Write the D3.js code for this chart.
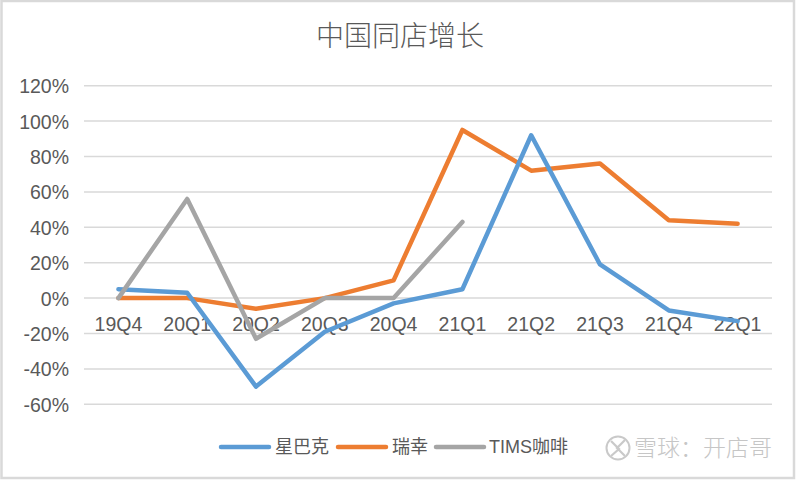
<!DOCTYPE html>
<html>
<head>
<meta charset="utf-8">
<script src="https://cdn.jsdelivr.net/npm/d3@7"></script>
<style>
  html, body { margin: 0; padding: 0; background: #fff; }
  svg { display: block; }
</style>
</head>
<body>
<svg id="chart" width="800" height="482"></svg>
<script>
const categories = ["19Q4", "20Q1", "20Q2", "20Q3", "20Q4", "21Q1", "21Q2", "21Q3", "21Q4", "22Q1"];
const starbucks = [5, 3, -50, -19, -3, 5, 92, 19, -7, -13];
const luckin = [0, 0, -6, 0, 10, 95, 72, 76, 44, 42];
const tims = [0, 56, -23, 0, 0, 43, null, null, null, null];
const yTicks = [-60, -40, -20, 0, 20, 40, 60, 80, 100, 120];
const seriesNames = ["星巴克", "瑞幸", "TIMS咖啡"];
const seriesColors = ["#5B9BD5", "#ED7D31", "#A5A5A5"];
const title = "中国同店增长";
const watermark = "雪球：开店哥";

const svg = d3.select("#chart");

// outer frame
svg.append("rect").attr("x", 1.5).attr("y", 1).attr("width", 792.5).attr("height", 477)
  .attr("fill", "#fff").attr("stroke", "#d9d9d9").attr("stroke-width", 2.5);

const x = d3.scaleBand().domain(categories).range([84, 772]);
const y = d3.scaleLinear().domain([-60, 120]).range([404.3, 85.7]);

// title
svg.append("text").attr("x", 400).attr("y", 46).attr("text-anchor", "middle")
  .attr("font-family", "'Noto Sans CJK SC', sans-serif").attr("font-weight", 300)
  .attr("font-size", 28).attr("fill", "#595959").text(title);

// gridlines
const grid = svg.append("g");
grid.selectAll("line").data(yTicks).join("line")
  .attr("x1", 84).attr("x2", 772)
  .attr("y1", d => y(d)).attr("y2", d => y(d))
  .attr("stroke", "#d9d9d9").attr("stroke-width", 1.5);

// y axis
const yAxis = d3.axisLeft(y).tickValues(yTicks).tickFormat(d => d + "%").tickSize(0).tickPadding(0);
const yg = svg.append("g").attr("transform", "translate(69,0)").call(yAxis);
yg.select(".domain").remove();
yg.selectAll("text").attr("font-family", "'Liberation Sans', Arial, sans-serif")
  .attr("font-size", 19.5).attr("fill", "#595959").attr("dy", "0.36em");

// x axis labels
const xAxis = d3.axisBottom(x).tickSize(0).tickPadding(0);
const xg = svg.append("g").attr("transform", "translate(0,331)").call(xAxis);
xg.select(".domain").remove();
xg.selectAll("text").attr("font-family", "'Liberation Sans', Arial, sans-serif")
  .attr("font-size", 19.5).attr("fill", "#595959").attr("dy", 0);

// lines
const allSeries = [starbucks, luckin, tims];
const line = d3.line()
  .defined(d => d.v !== null)
  .x(d => x(d.c) + x.bandwidth() / 2)
  .y(d => y(d.v));
const order = [1, 0, 2];
order.forEach(i => {
  const data = categories.map((c, j) => ({ c, v: allSeries[i][j] }));
  svg.append("path").datum(data).attr("d", line)
    .attr("fill", "none").attr("stroke", seriesColors[i])
    .attr("stroke-width", 4.5).attr("stroke-linejoin", "round").attr("stroke-linecap", "round");
});

// legend
const legendItems = [
  { x1: 221, x2: 269, tx: 275 },
  { x1: 338, x2: 386, tx: 392 },
  { x1: 436, x2: 484, tx: 489 }
];
const lg = svg.append("g");
legendItems.forEach((it, i) => {
  lg.append("line").attr("x1", it.x1).attr("x2", it.x2).attr("y1", 447).attr("y2", 447)
    .attr("stroke", seriesColors[i]).attr("stroke-width", 4.5).attr("stroke-linecap", "round");
  lg.append("text").attr("x", it.tx).attr("y", 447).attr("dy", "0.35em")
    .attr("font-family", "'Liberation Sans', 'Noto Sans CJK SC', sans-serif")
    .attr("font-size", 18).attr("fill", "#595959").text(seriesNames[i]);
});

// watermark
const wm = svg.append("g").attr("opacity", 0.9);
wm.append("circle").attr("cx", 618).attr("cy", 448).attr("r", 11.5)
  .attr("fill", "none").attr("stroke", "#c4c4c4").attr("stroke-width", 2);
wm.append("path").attr("d", "M611,441 L619,449 L611,456 M625,440 L617,448 L625,456")
  .attr("fill", "none").attr("stroke", "#c4c4c4").attr("stroke-width", 2.2);
wm.append("text").attr("x", 634).attr("y", 448).attr("dy", "0.36em")
  .attr("font-family", "'Noto Sans CJK SC', sans-serif").attr("font-weight", 300)
  .attr("font-size", 23).attr("fill", "#c0c0c0").text(watermark);
</script>
</body>
</html>
